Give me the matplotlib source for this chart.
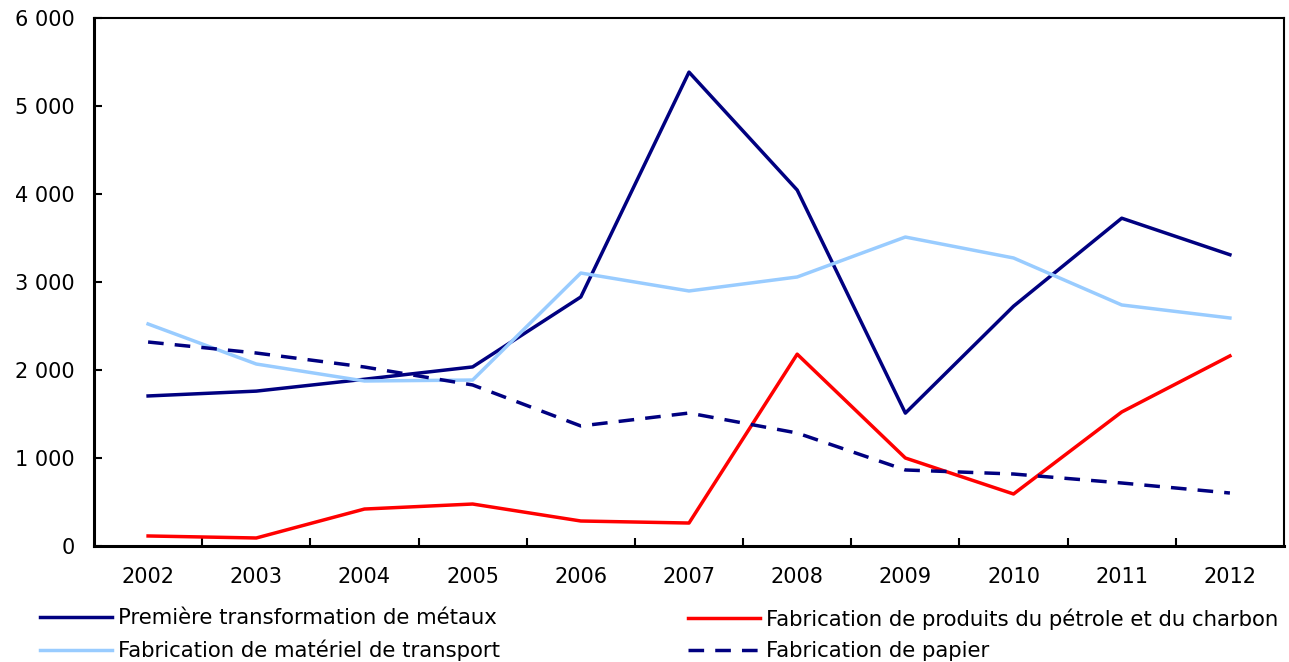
import matplotlib.pyplot as plt
from matplotlib.ticker import FuncFormatter

years = ["2002", "2003", "2004", "2005", "2006", "2007", "2008", "2009", "2010", "2011", "2012"]

metaux = [1705, 1760, 1895, 2035, 2830, 5385, 4045, 1510, 2725, 3725, 3310]
petrole = [114, 91, 420, 477, 284, 261, 2180, 1000, 591, 1523, 2160]
transport = [2523, 2068, 1875, 1886, 3102, 2898, 3057, 3511, 3273, 2739, 2591]
papier = [2318, 2193, 2034, 1830, 1364, 1511, 1284, 864, 818, 716, 602]

labels = ["Première transformation de métaux",
          "Fabrication de produits du pétrole et du charbon",
          "Fabrication de matériel de transport",
          "Fabrication de papier"]

plt.rcParams['font.family'] = ['DejaVu Sans']

fig = plt.figure(figsize=(12.89, 6.62), dpi=100)
ax = fig.add_axes([94 / 1289, 1 - 546 / 662, 1190 / 1289, 528 / 662])

x = range(len(years))
l1, = ax.plot(x, metaux, color="#000080", lw=2.5)
l2, = ax.plot(x, petrole, color="#FF0000", lw=2.5)
l3, = ax.plot(x, transport, color="#99CCFF", lw=2.5)
l4, = ax.plot(x, papier, color="#000080", lw=2.5, dashes=(4.5, 3.2))

ax.set_xlim(-0.5, len(years) - 0.5)
ax.set_ylim(0, 6000)
ax.set_yticks(range(0, 6001, 1000))
ax.yaxis.set_major_formatter(FuncFormatter(lambda v, p: f"{int(v):,}".replace(",", " ")))

# ticks sit between the years, labels centred on each year
ax.set_xticks([i + 0.5 for i in range(len(years) - 1)])
ax.set_xticklabels([])
ax.set_xticks(list(x), minor=True)
ax.set_xticklabels(years, minor=True)
ax.tick_params(axis="x", which="major", direction="in", length=6, width=1.5)
ax.tick_params(axis="x", which="minor", length=0, pad=15, labelsize=15)
ax.tick_params(axis="y", direction="in", length=6, width=1.5, pad=14, labelsize=15)

for s in ax.spines.values():
    s.set_linewidth(1.5)
ax.spines["left"].set_linewidth(2.2)
ax.spines["bottom"].set_linewidth(2.2)

leg_kw = dict(frameon=False, fontsize=15.3, handlelength=3.4, handletextpad=0.25,
              labelspacing=0.55, borderpad=0, borderaxespad=0, loc="upper left")
leg1 = fig.legend([l1, l3], [labels[0], labels[2]],
                  bbox_to_anchor=(40 / 1289, 1 - 608 / 662), **leg_kw)
leg2 = fig.legend([l2, l4], [labels[1], labels[3]],
                  bbox_to_anchor=(688 / 1289, 1 - 608 / 662), **leg_kw)

fig.savefig("out.png", dpi=100)
